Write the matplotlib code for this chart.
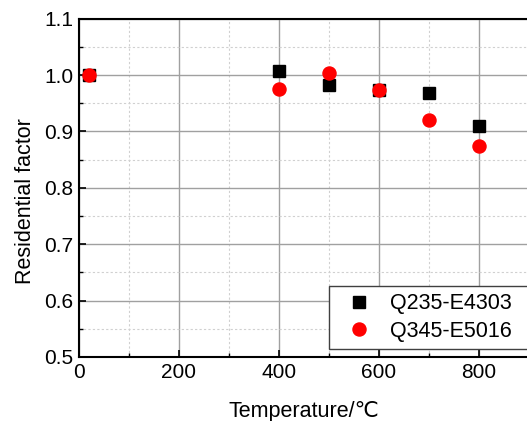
import numpy as np
import matplotlib
matplotlib.use("Agg")
import matplotlib.pyplot as plt
from matplotlib.ticker import MultipleLocator

plt.rcParams['font.family'] = ['Liberation Sans', 'DejaVu Sans']

# data
temps = [20, 400, 500, 600, 700, 800]
q235 = [1.000, 1.008, 0.982, 0.973, 0.969, 0.910]
q345 = [1.000, 0.976, 1.004, 0.973, 0.920, 0.874]
labels = ['Q235-E4303', 'Q345-E5016']

fig = plt.figure(figsize=(5.27, 4.21), dpi=100)
ax = fig.add_axes([79/527, 64/421, 450/527, 338.3/421])

ax.plot(temps, q235, ls='none', marker='s', ms=8.6, color='black', label=labels[0], zorder=3)
ax.plot(temps, q345, ls='none', marker='o', ms=9.4, color='red', mec='red', label=labels[1], zorder=4)

ax.set_xlim(0, 900)
ax.set_ylim(0.5, 1.1)
ax.xaxis.set_major_locator(MultipleLocator(200))
ax.xaxis.set_minor_locator(MultipleLocator(100))
ax.yaxis.set_major_locator(MultipleLocator(0.1))
ax.yaxis.set_minor_locator(MultipleLocator(0.05))
ax.yaxis.set_major_formatter(lambda v, p: '%.1f' % v)

ax.grid(True, which='major', color='#a0a0a0', lw=1.0, ls='-')
ax.grid(True, which='minor', color='#d0d0d0', lw=0.8, ls=(0, (2, 2)))
ax.set_axisbelow(True)

for s in ax.spines.values():
    s.set_linewidth(1.5)
ax.tick_params(which='major', direction='in', length=5, width=1.2, labelsize=15, pad=4)
ax.tick_params(which='minor', direction='in', length=3, width=1.0)

ax.set_xlabel('Temperature/℃', fontsize=15.5, labelpad=14)
ax.set_ylabel('Residential factor', fontsize=15.5, labelpad=6)
ax.yaxis.label.set_y(0.461)

leg = ax.legend(loc='lower left', bbox_to_anchor=(0.5556, 0.0228, 0.47, 0.2), mode='expand',
                borderaxespad=0, fontsize=15.5, fancybox=False, framealpha=1, edgecolor='#404040',
                handletextpad=0.4, labelspacing=0.3, borderpad=0.35, handlelength=2.1)
leg.get_frame().set_linewidth(1.0)

fig.savefig('out.png', dpi=100)
